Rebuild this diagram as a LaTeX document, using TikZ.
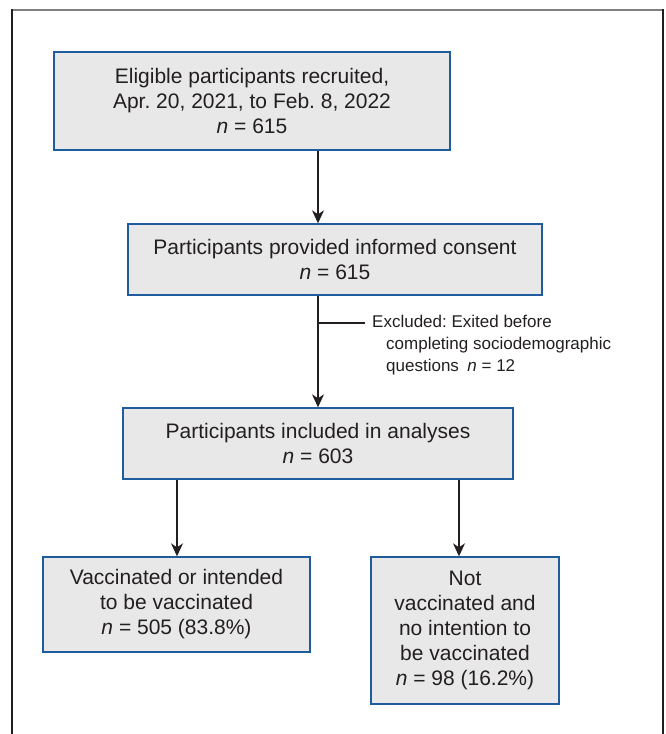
\documentclass[tikz,border=0pt]{standalone}
\usepackage{fontspec}
\setmainfont{Liberation Sans}
\usepackage{xcolor}
\usetikzlibrary{positioning,arrows.meta}
\definecolor{boxfill}{HTML}{E8E8E8}
\definecolor{boxline}{HTML}{1F5C9E}
\definecolor{ink}{HTML}{231F20}
\frenchspacing

\begin{document}
\begin{tikzpicture}[x=1pt,y=-1pt,>={Stealth[length=13pt,width=12pt,inset=4pt]}]
\tikzstyle{flowbox}=[draw=boxline, fill=boxfill, line width=1.4pt, align=center, inner sep=0pt, text=ink, font=\fontsize{21}{25}\selectfont]
\tikzstyle{excl}=[align=left, inner sep=0pt, text=ink, font=\fontsize{17}{22}\selectfont]
\tikzstyle{conn}=[line width=1.5pt, draw=ink]

\useasboundingbox (0,0) rectangle (666,734);
% frame
\draw[line width=2pt, gray] (12,10) -- (663,10);
\draw[line width=2pt, ink] (12,734) -- (12,9);
\draw[line width=2pt, ink] (663,734) -- (663,9);

\node[flowbox, minimum width=396pt, minimum height=98pt] (recruited) at (252,101)
  {Eligible participants recruited,\\ Apr. 20, 2021, to Feb. 8, 2022\\ \textit{n} = 615};
\node[flowbox, minimum width=414pt, minimum height=71pt] (consent) at (335,259.5)
  {Participants provided informed consent\\ \textit{n} = 615};
\node[flowbox, minimum width=390pt, minimum height=71pt] (included) at (318,443.5)
  {Participants included in analyses\\ \textit{n} = 603};
\node[flowbox, minimum width=267pt, minimum height=95pt] (vacc) at (176.5,604.5)
  {Vaccinated or intended\\ to be vaccinated\\ \textit{n} = 505 (83.8\%)};
\node[flowbox, minimum width=188pt, minimum height=147pt] (notvacc) at (465,630.5)
  {Not\\ vaccinated and\\ no intention to\\ be vaccinated\\ \textit{n} = 98 (16.2\%)};
\node[excl, anchor=west] (excluded) at (372,345)
  {Excluded: Exited before\\ \hspace*{14pt}completing sociodemographic\\ \hspace*{14pt}questions\enspace\textit{n} = 12};

\coordinate (spine) at (318,0);
\coordinate (branch) at (318,323);
\coordinate (leftdrop) at (177,0);
\coordinate (rightdrop) at (459,0);

% connectors
\draw[conn, ->] (recruited.south -| spine) -- (consent.north -| spine);
\draw[conn, ->] (consent.south -| spine) -- (included.north -| spine);
\draw[conn, ->] (included.south -| leftdrop) -- (vacc.north -| leftdrop);
\draw[conn, ->] (included.south -| rightdrop) -- (notvacc.north -| rightdrop);
\draw[conn] (branch) -- ([xshift=-7pt]branch -| excluded.west);
\end{tikzpicture}
\end{document}
